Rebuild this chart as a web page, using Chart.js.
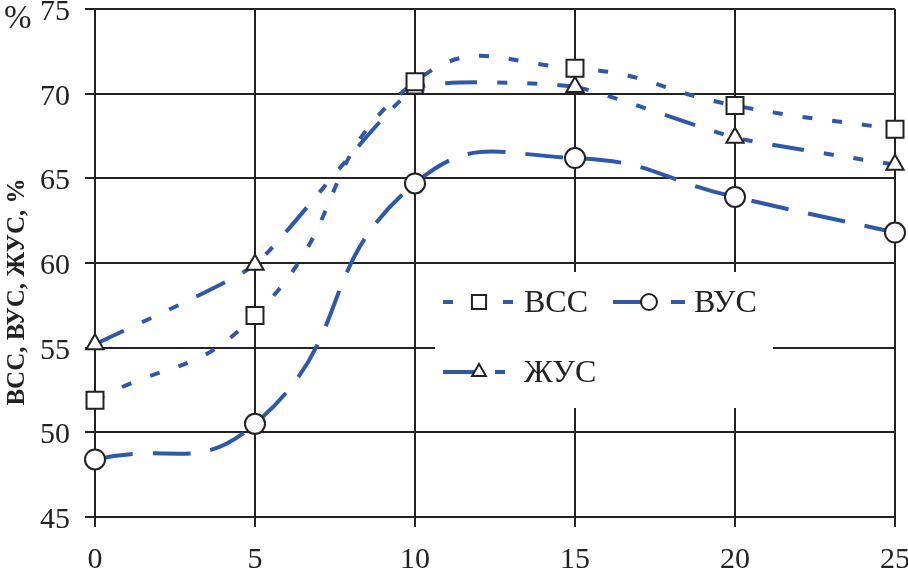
<!DOCTYPE html>
<html>
<head>
<meta charset="utf-8">
<script src="https://cdn.jsdelivr.net/npm/chart.js@4/dist/chart.umd.min.js"></script>
<style>
  html, body { margin: 0; padding: 0; background: #fff; }
  #wrap { position: relative; width: 908px; height: 570px; }
</style>
</head>
<body>
<div id="wrap"><canvas id="chart-vss" width="908" height="570"></canvas></div>
<script>
const xValues = [0, 5, 10, 15, 20, 25];
const vss = [51.9, 56.9, 70.7, 71.5, 69.3, 67.9];
const vus = [48.4, 50.5, 64.7, 66.2, 63.9, 61.8];
const zhus = [55.2, 59.9, 70.3, 70.4, 67.4, 65.8];
const yTicks = [45, 50, 55, 60, 65, 70, 75];

const blue = '#2f58a8';
const ink = '#222';
const serif = '"Liberation Serif", "DejaVu Serif", serif';

function pts(ys) { return xValues.map((x, i) => ({x: x, y: ys[i]})); }

function series(label, ys, dash, style, r, tension) {
  return {
    label: label,
    data: pts(ys),
    borderColor: blue,
    borderWidth: 4,
    borderDash: dash,
    tension: tension,
    clip: false,
    pointStyle: style,
    pointRadius: r,
    pointBackgroundColor: '#fff',
    pointBorderColor: ink,
    pointBorderWidth: 2,
    fill: false
  };
}

// marker for the legend, drawn by hand
function marker(ctx, style, x, y, r) {
  ctx.save();
  ctx.setLineDash([]);
  ctx.fillStyle = '#fff';
  ctx.strokeStyle = ink;
  ctx.lineWidth = 2;
  ctx.beginPath();
  if (style === 'rect') {
    const s = r * Math.SQRT1_2;
    ctx.rect(x - s, y - s, 2 * s, 2 * s);
  } else if (style === 'triangle') {
    ctx.moveTo(x, y - r);
    ctx.lineTo(x + r * 0.866, y + r * 0.5);
    ctx.lineTo(x - r * 0.866, y + r * 0.5);
    ctx.closePath();
  } else {
    ctx.arc(x, y, r, 0, Math.PI * 2);
  }
  ctx.fill();
  ctx.stroke();
  ctx.restore();
}

const extras = {
  id: 'extras',
  afterDatasetsDraw(chart) {
    const ctx = chart.ctx;
    // legend box over the grid
    ctx.save();
    ctx.fillStyle = '#fff';
    ctx.fillRect(435, 272, 338, 136);
    const items = [
      {ds: 0, x: 443, y: 302},
      {ds: 1, x: 613, y: 302},
      {ds: 2, x: 443, y: 372}
    ];
    items.forEach(it => {
      const d = chart.data.datasets[it.ds];
      ctx.save();
      ctx.strokeStyle = d.borderColor;
      ctx.lineWidth = d.borderWidth;
      ctx.setLineDash(d.borderDash);
      ctx.beginPath();
      ctx.moveTo(it.x, it.y);
      ctx.lineTo(it.x + 72, it.y);
      ctx.stroke();
      ctx.restore();
      marker(ctx, d.pointStyle, it.x + 36, it.y, d.pointRadius - 2);
      ctx.fillStyle = ink;
      ctx.font = '32px ' + serif;
      ctx.textBaseline = 'middle';
      ctx.textAlign = 'left';
      ctx.fillText(d.label, it.x + 81, it.y + 2);
    });
    ctx.restore();
  },
  afterDraw(chart) {
    const ctx = chart.ctx;
    ctx.save();
    ctx.fillStyle = ink;
    ctx.font = '33px ' + serif;
    ctx.textBaseline = 'alphabetic';
    ctx.fillText('%', 4, 28);
    ctx.translate(18, 292);
    ctx.rotate(-Math.PI / 2);
    ctx.font = 'bold 25px ' + serif;
    ctx.textAlign = 'center';
    ctx.textBaseline = 'middle';
    ctx.fillText('ВСС, ВУС, ЖУС, %', 0, 0);
    ctx.restore();
  }
};

new Chart(document.getElementById('chart-vss').getContext('2d'), {
  type: 'line',
  data: {
    datasets: [
      series('ВСС', vss, [10, 20], 'rect', 12, 0.5),
      series('ВУС', vus, [38, 20], 'circle', 10, 0.5),
      series('ЖУС', zhus, [32, 20, 10, 20, 10, 20], 'triangle', 10, 0.15)
    ]
  },
  options: {
    responsive: false,
    animation: false,
    layout: { autoPadding: false, padding: { top: 9, right: 13, left: 0, bottom: 0 } },
    plugins: { legend: { display: false }, tooltip: { enabled: false } },
    scales: {
      x: {
        type: 'linear',
        min: 0,
        max: 25,
        afterFit: s => { s.height = 53; s.paddingLeft = 0; s.paddingRight = 0; },
        ticks: { stepSize: 5, color: ink, padding: 15, font: { family: serif, size: 30 } },
        grid: { color: ink, lineWidth: 2, tickLength: 10 },
        border: { color: ink, width: 2 }
      },
      y: {
        min: 45,
        max: 75,
        afterFit: s => { s.width = 95; s.paddingTop = 0; s.paddingBottom = 0; },
        afterBuildTicks: s => { s.ticks = yTicks.map(v => ({value: v})); },
        ticks: { color: ink, padding: 15, labelOffset: 3, font: { family: serif, size: 30 } },
        grid: { color: ink, lineWidth: 2, tickLength: 10 },
        border: { color: ink, width: 2 }
      }
    }
  },
  plugins: [extras]
});
</script>
</body>
</html>
